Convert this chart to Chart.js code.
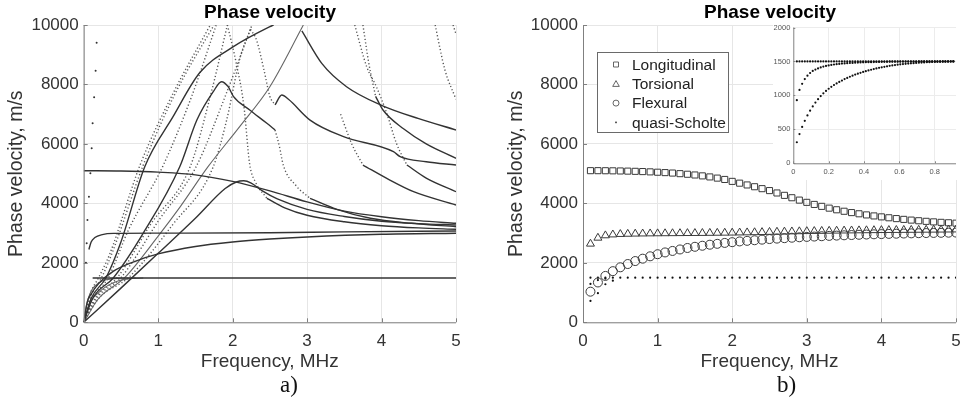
<!DOCTYPE html>
<html>
<head>
<meta charset="utf-8">
<script src="https://cdn.jsdelivr.net/npm/chart.js@4.4.1/dist/chart.umd.min.js"></script>
<style>
  html, body { margin: 0; padding: 0; background: #fff; }
  body { width: 961px; height: 402px; position: relative; overflow: hidden; }
  canvas { position: absolute; }
  #chartA { left: 0; top: 0; }
  #chartB { left: 500px; top: 0; }
  #inset { left: 773px; top: 20px; background: #fff; }
  .tag { position: absolute; font-family: "Liberation Serif", "Times New Roman", serif; font-size: 23px; color: #111; }
  .ttl { position: absolute; top: 0; font-family: "Liberation Sans", Arial, Helvetica, sans-serif; font-weight: bold;
         font-size: 19px; line-height: 24px; color: #000; transform: translateX(-50%); white-space: nowrap; z-index: 3; }
</style>
</head>
<body>
<canvas id="chartA" width="470" height="402"></canvas>
<canvas id="chartB" width="470" height="402"></canvas>
<canvas id="inset" width="188" height="160"></canvas>
<div class="ttl" style="left:270px;">Phase velocity</div>
<div class="ttl" style="left:770px;">Phase velocity</div>
<div class="tag" style="left:280px; top:372px;">a)</div>
<div class="tag" style="left:777px; top:372px;">b)</div>
<script>
// ---------- Panel a: all computed dispersion branches, [frequency MHz, phase velocity m/s] ----------
const waterLine   = [[0.12,1490],[1,1490],[2,1490],[3,1490],[4,1490],[5,1490]];
const scholteA    = [[0.0,0],[0.04,600],[0.1,1050],[0.2,1320],[0.3,1430],[0.5,1482],[0.7,1490]];
const scholteB    = [[0.0,0],[0.05,400],[0.1,720],[0.2,1000],[0.3,1200],[0.45,1380],[0.6,1460],[0.8,1490]];
const torsionalA  = [[0.07,2450],[0.1,2700],[0.15,2850],[0.25,2950],[0.4,2990],[1,3000],[2.5,3010],[3.5,3040],[5,3071]];
const flexuralA   = [[0.0,0],[0.05,700],[0.1,950],[0.2,1300],[0.4,1720],[0.7,2060],[1,2300],[1.5,2550],[2,2700],[2.5,2800],[3,2870],[4,2960],[5,2995]];
const longitudinalA = [[0,5100],[0.5,5090],[1,5050],[1.5,4960],[2,4740],[2.5,4420],[3,4050],[3.5,3740],[4,3550],[4.5,3420],[5,3330]];
const peakBranch  = [[0,0],[0.5,1150],[1,2320],[1.5,3500],[1.9,4500],[2.05,4720],[2.15,4760],[2.25,4680],[2.4,4420],[2.6,4150],[3,3800],[3.5,3560],[4,3400],[4.5,3320],[5,3273]];
const dropBranch  = [[1.93,10000],[2.05,8700],[2.15,7300],[2.23,5300],[2.3,4750],[2.46,4170]];
const dropTail    = [[2.46,4170],[2.7,3850],[3,3600],[3.5,3380],[4,3250],[4.5,3175],[5,3128]];
const arch8000    = [[0,0],[0.12,800],[0.4,1500],[0.8,3000],[1.29,5234],[1.52,6804],[1.74,7757],[1.85,8093],[1.94,7925],[2.01,7600],[2.23,7140],[2.46,6693],[2.57,6468]];
const archFall    = [[2.57,6468],[2.63,5900],[2.68,5290],[2.85,4600],[3.04,4170]];
const archTail    = [[3.04,4170],[3.4,3800],[3.85,3498],[4.4,3330],[5,3216]];
const riseA       = [[0,0],[0.1,800],[0.3,1500],[0.5,2700],[0.82,5234],[1.2,6915],[1.56,8400],[2.01,9270],[2.5,9943],[2.55,10000]];
const riseE       = [[0,0],[0.2,800],[0.55,1500],[1.0,2900],[1.3,3900],[1.67,5234],[2.1,6600],[2.5,7925],[2.95,10000]];
const riseG       = [[0,0],[0.2,800],[0.6,1500],[1.2,3300],[1.74,5234],[1.92,6804],[2.1,8900],[2.24,9855]];
const gFall       = [[2.24,9855],[2.32,9500],[2.42,8500],[2.5,7600],[2.57,7310]];
const bumpBranch  = [[2.57,7310],[2.66,7645],[2.75,7500],[3.04,6802],[3.49,6243],[4.16,5738],[4.25,5570],[4.6,5400],[5,5290]];
const dotRise1    = [[0,0],[0.08,900],[0.2,1500],[0.35,2300],[0.757,5290],[1.2,7700],[1.70,10000]];
const dotRise2    = [[0,0],[0.1,900],[0.24,1500],[0.4,2450],[0.80,5290],[1.25,7800],[1.75,10000]];
const dotRise3    = [[0,0],[0.12,800],[0.33,1500],[0.6,3100],[1.07,5290],[1.45,7600],[1.78,10000]];
const dotRise4    = [[0,0],[0.15,800],[0.45,1500],[0.9,3300],[1.43,5234],[1.7,7600],[1.93,10000]];
const dotRise5    = [[0,0],[0.17,800],[0.5,1500],[1.0,3400],[1.51,5234],[1.9,7600],[2.26,10000]];
const topFall     = [[2.93,9800],[3.2,8700],[3.53,7925],[4,7300],[4.5,6850],[5,6468]];
const cutoffFallA = [[3.64,10000],[3.8,8600],[3.93,7925],[4.07,7030],[4.2,6020],[4.34,5290]];
const cutoffTailA = [[4.34,5290],[4.6,4850],[5,4393]];
const cutoffFallB = [[3.75,10000],[3.83,8700],[3.92,7600]];
const cutoffTailB = [[3.92,7600],[4.02,7140],[4.3,6500],[4.6,6000],[5,5516]];
const midFall     = [[3.45,7000],[3.6,6000],[3.75,5290]];
const midTail     = [[3.75,5290],[4.1,4800],[4.43,4393],[5,3945]];
const rightFallA  = [[4.72,10000],[4.85,8500],[5,7500]];
const rightFallB  = [[4.96,10000],[5,9700]];
const edgeDots    = [[0.174,9405],[0.16,8463],[0.14,7568],[0.12,6693],[0.107,5852],[0.09,5011],[0.07,4225],[0.05,3441],[0.04,2657],[0.03,2000]];

// ---------- Panel b: identified modes, one value per 0.1 MHz ----------
const freqB = [0.1,0.2,0.3,0.4,0.5,0.6,0.7,0.8,0.9,1.0,1.1,1.2,1.3,1.4,1.5,1.6,1.7,1.8,1.9,2.0,
               2.1,2.2,2.3,2.4,2.5,2.6,2.7,2.8,2.9,3.0,3.1,3.2,3.3,3.4,3.5,3.6,3.7,3.8,3.9,4.0,
               4.1,4.2,4.3,4.4,4.5,4.6,4.7,4.8,4.9,5.0];
const longitudinal = [5100,5100,5098,5095,5090,5085,5078,5070,5060,5048,5035,5020,5000,4980,4955,4925,4890,4850,4805,4740,
                      4680,4620,4560,4495,4430,4350,4270,4190,4110,4035,3965,3900,3840,3785,3735,3690,3650,3612,3578,3546,
                      3516,3488,3462,3438,3416,3396,3378,3362,3348,3335];
const torsional    = [2640,2840,2920,2950,2965,2972,2978,2982,2985,2988,2990,2992,2994,2996,2998,3000,3003,3006,3009,3012,
                      3016,3020,3025,3030,3036,3042,3047,3052,3057,3062,3066,3070,3074,3078,3082,3085,3088,3091,3094,3097,
                      3099,3101,3103,3105,3107,3109,3111,3113,3115,3117];
const flexural     = [1030,1340,1560,1720,1850,1960,2060,2140,2220,2290,2350,2400,2450,2500,2540,2575,2610,2640,2670,2695,
                      2720,2740,2760,2780,2800,2815,2830,2845,2860,2872,2884,2895,2906,2916,2926,2935,2944,2952,2960,2967,
                      2974,2980,2986,2992,2997,3002,3006,3010,3014,3018];
const scholteFlat  = [1500,1500,1500,1500,1500,1500,1500,1500,1500,1500,1500,1500,1500,1500,1500,1500,1500,1500,1500,1500,
                      1500,1500,1500,1500,1500,1500,1500,1500,1500,1500,1500,1500,1500,1500,1500,1500,1500,1500,1500,1500,
                      1500,1500,1500,1500,1500,1500,1500,1500,1500,1500];
const scholteLowF  = [0.1,0.2,0.3,0.4,0.1,0.2,0.3];
const scholteLowV  = [720,980,1280,1400,1290,1420,1470];

// ---------- Inset: low-frequency quasi-Scholte branches ----------
const freqInset = [0.02,0.035,0.05,0.065,0.08,0.095,0.11,0.125,0.14,0.155,0.17,0.185,0.2,0.215,0.23,0.245,0.26,0.275,0.29,0.305,
                   0.32,0.335,0.35,0.365,0.38,0.395,0.41,0.425,0.44,0.455,0.47,0.485,0.5,0.515,0.53,0.545,0.56,0.575,0.59,0.605,
                   0.62,0.635,0.65,0.665,0.68,0.695,0.71,0.725,0.74,0.755,0.77,0.785,0.8,0.815,0.83,0.845,0.86,0.875,0.89,0.905];
const insetFlat = [1500,1500,1500,1500,1500,1500,1500,1500,1500,1500,1500,1500,1500,1500,1500,1500,1500,1500,1500,1500,
                   1500,1500,1500,1500,1500,1500,1500,1500,1500,1500,1500,1500,1500,1500,1500,1500,1500,1500,1500,1500,
                   1500,1500,1500,1500,1500,1500,1500,1500,1500,1500,1500,1500,1500,1500,1500,1500,1500,1500,1500,1500];
const insetUpper = [930,1080,1170,1240,1290,1330,1360,1380,1398,1412,1424,1434,1442,1449,1455,1460,1464,1468,1471,1474,
                    1477,1479,1481,1483,1485,1487,1488,1489,1490,1491,1492,1493,1494,1495,1495,1496,1496,1497,1497,1498,
                    1498,1498,1499,1499,1499,1499,1500,1500,1500,1500,1500,1500,1500,1500,1500,1500,1500,1500,1500,1500];
const insetLower = [310,430,535,625,705,775,838,895,945,990,1030,1066,1098,1127,1153,1177,1199,1219,1240,1258,
                    1275,1291,1306,1320,1333,1345,1357,1368,1378,1388,1397,1406,1414,1421,1428,1435,1441,1447,1452,1457,
                    1461,1465,1469,1472,1475,1478,1481,1484,1486,1488,1490,1492,1493,1494,1495,1496,1497,1498,1499,1500];

const xTicks = [0,1,2,3,4,5];
const yTicks = [0,2000,4000,6000,8000,10000];
const insetXTicks = [0,0.2,0.4,0.6,0.8];
const insetYTicks = [0,500,1000,1500,2000];

const FONT = '"Liberation Sans", Arial, Helvetica, sans-serif';
const INK = '#3a3a3a';

function pts(arr) { return arr.map(p => ({x: p[0], y: p[1]})); }
function zip(xs, ys) { return xs.map((x, i) => ({x: x, y: ys[i]})); }
const plain = v => String(v);

// axis lines on the left/bottom edges with short inward tick marks
const axisFrame = {
  id: 'axisFrame',
  afterDatasetsDraw(chart, args, opts) {
    const {ctx, chartArea: a, scales: {x, y}} = chart;
    ctx.save();
    ctx.strokeStyle = opts.color || '#777';
    ctx.lineWidth = 1;
    ctx.beginPath();
    ctx.moveTo(a.left + 0.5, a.top); ctx.lineTo(a.left + 0.5, a.bottom + 0.5); ctx.lineTo(a.right, a.bottom + 0.5);
    const len = opts.len || 4;
    (opts.xt || []).forEach(v => { const px = Math.round(x.getPixelForValue(v)) + 0.5; ctx.moveTo(px, a.bottom); ctx.lineTo(px, a.bottom - len); });
    (opts.yt || []).forEach(v => { const py = Math.round(y.getPixelForValue(v)) + 0.5; ctx.moveTo(a.left, py); ctx.lineTo(a.left + len, py); });
    ctx.stroke();
    ctx.restore();
  }
};

// legend box drawn inside the axes of panel b
const boxLegend = {
  id: 'boxLegend',
  afterDraw(chart, args, opts) {
    if (!opts.items) return;
    const {ctx} = chart;
    const b = opts.box;
    ctx.save();
    ctx.fillStyle = '#fff';
    ctx.fillRect(b.x, b.y, b.w, b.h);
    ctx.strokeStyle = '#6a6a6a';
    ctx.lineWidth = 1;
    ctx.strokeRect(b.x + 0.5, b.y + 0.5, b.w, b.h);
    ctx.font = '15.5px ' + FONT;
    ctx.textBaseline = 'middle';
    opts.items.forEach((it, i) => {
      const cy = b.y + 12.5 + i * 19.3;
      const cx = b.x + 19;
      ctx.strokeStyle = '#555';
      ctx.lineWidth = 0.9;
      ctx.beginPath();
      if (it.mark === 'rect') ctx.rect(cx - 2.5, cy - 2.5, 5, 5);
      else if (it.mark === 'triangle') { ctx.moveTo(cx, cy - 3.2); ctx.lineTo(cx + 3.3, cy + 2.6); ctx.lineTo(cx - 3.3, cy + 2.6); ctx.closePath(); }
      else if (it.mark === 'circle') ctx.arc(cx, cy, 3, 0, Math.PI * 2);
      if (it.mark === 'dot') { ctx.fillStyle = '#333'; ctx.fillRect(cx - 0.8, cy - 0.8, 1.6, 1.6); }
      else ctx.stroke();
      ctx.fillStyle = '#222';
      ctx.fillText(it.label, b.x + 35, cy + 1);
    });
    ctx.restore();
  }
};

function fixedBox(w) { return function (s) { s.width = w; }; }
function fixedHeight(h) { return function (s) { s.height = h; }; }

function mainScales(yWidth) {
  return {
    x: {
      type: 'linear', min: 0, max: 5,
      afterBuildTicks: s => { s.ticks = xTicks.map(v => ({value: v})); },
      afterFit: fixedHeight(79.7),
      grid: { color: '#e6e6e6', drawTicks: false, lineWidth: 1 },
      border: { display: false },
      ticks: { font: {family: FONT, size: 17}, color: '#333', padding: 9, maxRotation: 0, callback: plain },
      title: { display: true, text: 'Frequency, MHz', font: {family: FONT, size: 19}, color: '#333', padding: {top: 0, bottom: 29} }
    },
    y: {
      type: 'linear', min: 0, max: 10000,
      afterBuildTicks: s => { s.ticks = yTicks.map(v => ({value: v})); },
      afterFit: fixedBox(yWidth),
      grid: { color: '#e6e6e6', drawTicks: false, lineWidth: 1 },
      border: { display: false },
      ticks: { font: {family: FONT, size: 17}, color: '#333', padding: 5, callback: plain },
      title: { display: true, text: 'Phase velocity, m/s', font: {family: FONT, size: 19.5}, color: '#333', padding: {top: 5, bottom: 0} }
    }
  };
}

function lineSet(data, opts) {
  return Object.assign({
    data: pts(data), showLine: true, pointRadius: 0, borderColor: '#333', borderWidth: 1.4,
    cubicInterpolationMode: 'monotone', fill: false
  }, opts || {});
}
const GREY = { borderColor: '#666', borderWidth: 1.1 };
const DOT = { borderDash: [1.2, 2.3], borderWidth: 1.4, borderColor: '#555' };

// ---------- Panel a ----------
const darkSets  = [waterLine, torsionalA, flexuralA, longitudinalA, peakBranch, riseA, dropTail, arch8000, archTail,
                   bumpBranch, topFall, cutoffTailA, cutoffTailB, midTail];
const greySets  = [scholteA, scholteB, riseE];
const dottedSets = [dropBranch, archFall, riseG, gFall, dotRise1, dotRise2, dotRise3, dotRise4, dotRise5,
                    cutoffFallA, cutoffFallB, midFall, rightFallA, rightFallB];

const dsA = [];
darkSets.forEach(d => dsA.push(lineSet(d)));
greySets.forEach(d => dsA.push(lineSet(d, GREY)));
dottedSets.forEach(d => dsA.push(lineSet(d, DOT)));
dsA.push({ data: pts(edgeDots), showLine: false, pointRadius: 1, pointBackgroundColor: '#333', pointBorderWidth: 0 });

new Chart(document.getElementById('chartA'), {
  type: 'scatter',
  data: { datasets: dsA },
  options: {
    responsive: false, animation: false, events: [],
    layout: { padding: { left: 0, right: 14, top: 25, bottom: 0 } },
    scales: mainScales(83.7),
    plugins: {
      legend: { display: false }, tooltip: { enabled: false },
      axisFrame: { xt: xTicks, yt: yTicks, len: 4, color: '#808080' },
      boxLegend: {}
    }
  },
  plugins: [axisFrame, boxLegend]
});

// ---------- Panel b ----------
const dsB = [
  { data: zip(freqB, longitudinal), pointStyle: 'rect', pointRadius: 4.3, pointBorderColor: INK, pointBackgroundColor: 'rgba(0,0,0,0)', pointBorderWidth: 1 },
  { data: zip(freqB, torsional), pointStyle: 'triangle', pointRadius: 4.6, pointBorderColor: INK, pointBackgroundColor: 'rgba(0,0,0,0)', pointBorderWidth: 1 },
  { data: zip(freqB, flexural), pointStyle: 'circle', pointRadius: 4.5, pointBorderColor: INK, pointBackgroundColor: 'rgba(0,0,0,0)', pointBorderWidth: 1 },
  { data: zip(freqB, scholteFlat), pointStyle: 'circle', pointRadius: 1.1, pointBorderWidth: 0, pointBackgroundColor: '#111' },
  { data: zip(scholteLowF, scholteLowV), pointStyle: 'circle', pointRadius: 1.1, pointBorderWidth: 0, pointBackgroundColor: '#111' }
];

new Chart(document.getElementById('chartB'), {
  type: 'scatter',
  data: { datasets: dsB },
  options: {
    responsive: false, animation: false, events: [],
    layout: { padding: { left: 0, right: 14, top: 25, bottom: 0 } },
    scales: mainScales(83),
    plugins: {
      legend: { display: false }, tooltip: { enabled: false },
      axisFrame: { xt: xTicks, yt: yTicks, len: 4, color: '#808080' },
      boxLegend: {
        box: { x: 97, y: 52, w: 131, h: 80 },
        items: [
          { mark: 'rect', label: 'Longitudinal' },
          { mark: 'triangle', label: 'Torsional' },
          { mark: 'circle', label: 'Flexural' },
          { mark: 'dot', label: 'quasi-Scholte' }
        ]
      }
    }
  },
  plugins: [axisFrame, boxLegend]
});

// ---------- Inset ----------
const dotStyle = { pointStyle: 'circle', pointRadius: 1.1, pointBorderWidth: 0, pointBackgroundColor: '#111' };
new Chart(document.getElementById('inset'), {
  type: 'scatter',
  data: { datasets: [
    Object.assign({ data: zip(freqInset, insetFlat) }, dotStyle),
    Object.assign({ data: zip(freqInset, insetUpper) }, dotStyle),
    Object.assign({ data: zip(freqInset, insetLower) }, dotStyle)
  ]},
  options: {
    responsive: false, animation: false, events: [],
    layout: { padding: { left: 0, right: 5, top: 5, bottom: 0 } },
    scales: {
      x: {
        type: 'linear', min: 0, max: 0.92,
        afterBuildTicks: s => { s.ticks = insetXTicks.map(v => ({value: v})); },
        afterFit: fixedHeight(160 - 143.3),
        grid: { color: '#ececec', drawTicks: false },
        border: { display: false },
        ticks: { font: {family: FONT, size: 7.5}, color: '#555', padding: 4, maxRotation: 0, callback: plain }
      },
      y: {
        type: 'linear', min: 0, max: 2000,
        afterBuildTicks: s => { s.ticks = insetYTicks.map(v => ({value: v})); },
        afterFit: fixedBox(20.3),
        grid: { color: '#ececec', drawTicks: false },
        border: { display: false },
        ticks: { font: {family: FONT, size: 7.5}, color: '#555', padding: 3, callback: plain }
      }
    },
    plugins: {
      legend: { display: false }, tooltip: { enabled: false },
      axisFrame: { xt: insetXTicks, yt: insetYTicks, len: 2, color: '#888' }
    }
  },
  plugins: [axisFrame]
});
</script>
</body>
</html>
